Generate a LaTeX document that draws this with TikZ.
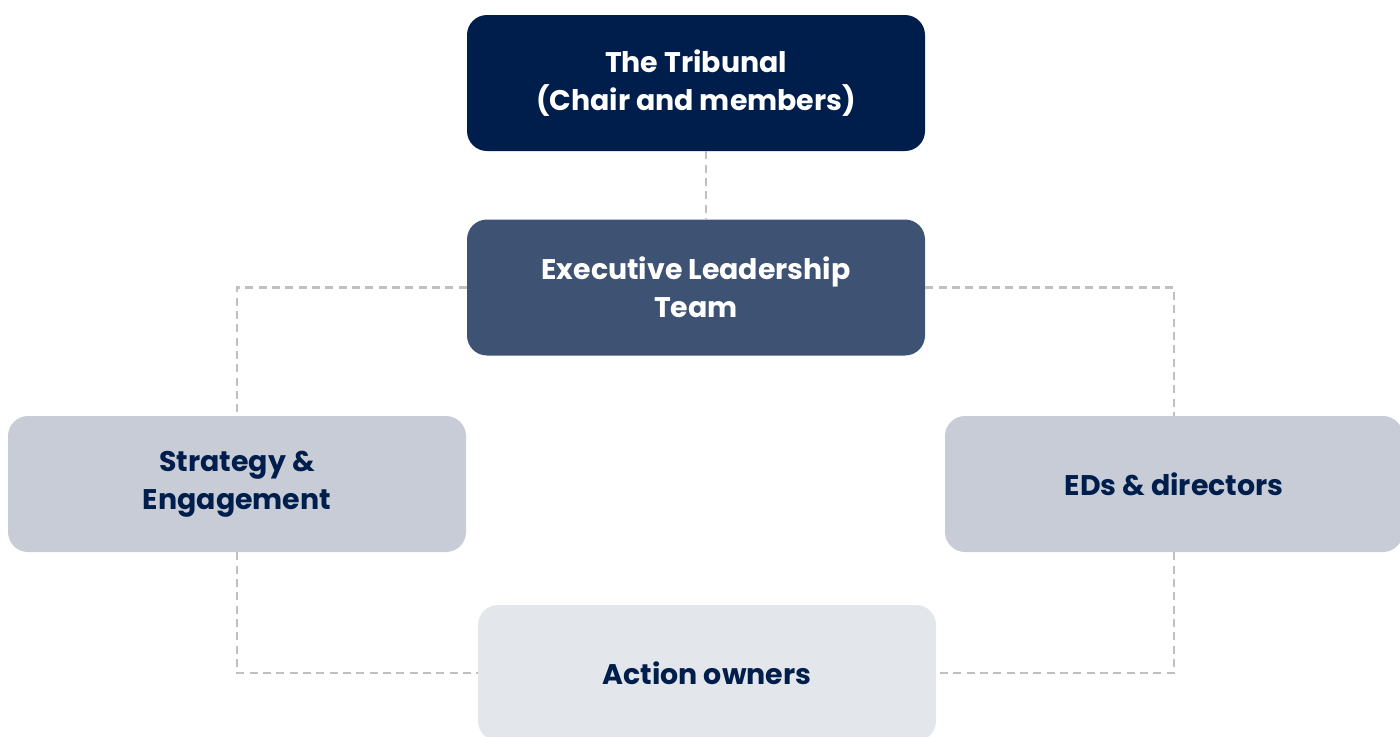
\documentclass[tikz,border=0pt]{standalone}
\usepackage{fontspec}
\setmainfont{Poppins}
\definecolor{navy}{RGB}{0,30,75}
\definecolor{slate}{RGB}{62,83,115}
\definecolor{mist}{RGB}{200,204,215}
\definecolor{haze}{RGB}{227,230,235}
\definecolor{linkgray}{RGB}{192,192,192}
\tikzset{
  box/.style={rounded corners=15pt, minimum width=343.5pt, minimum height=102pt,
    inner sep=0pt, align=center, font=\fontsize{21.3}{28.5}\selectfont\bfseries},
  link/.style={draw=linkgray, line width=1.7pt, dash pattern={on 6pt off 4pt}}
}
\begin{document}
\begin{tikzpicture}[x=0.75pt,y=0.75pt,yscale=-1,xscale=1]
\useasboundingbox (0,0) rectangle (1400,736);

%Shape: Rounded Rect
\node (tribunal) at (696,83) [box, fill=navy, text=white] {The Tribunal\\(Chair and members)};
%Shape: Rounded Rect
\node (elt) at (696,287.5) [box, fill=slate, text=white] {Executive Leadership\\Team};
%Shape: Rounded Rect
\node (strategy) at (237,484) [box, fill=mist, text=navy] {Strategy \&\\Engagement};
%Shape: Rounded Rect
\node (eds) at (1174,484) [box, fill=mist, text=navy] {EDs \& directors};
%Shape: Rounded Rect
\node (owners) at (707,673) [box, fill=haze, text=navy] {Action owners};

%Straight Lines
\draw [link] ([xshift=7.5pt]tribunal.south) -- ([xshift=7.5pt]elt.north);
\draw [link] (elt.west) -| (strategy.north);
\draw [link] (elt.east) -| (eds.north);
\draw [link] (strategy.south) |- (owners.west);
\draw [link] (eds.south) |- (owners.east);

\end{tikzpicture}
\end{document}
